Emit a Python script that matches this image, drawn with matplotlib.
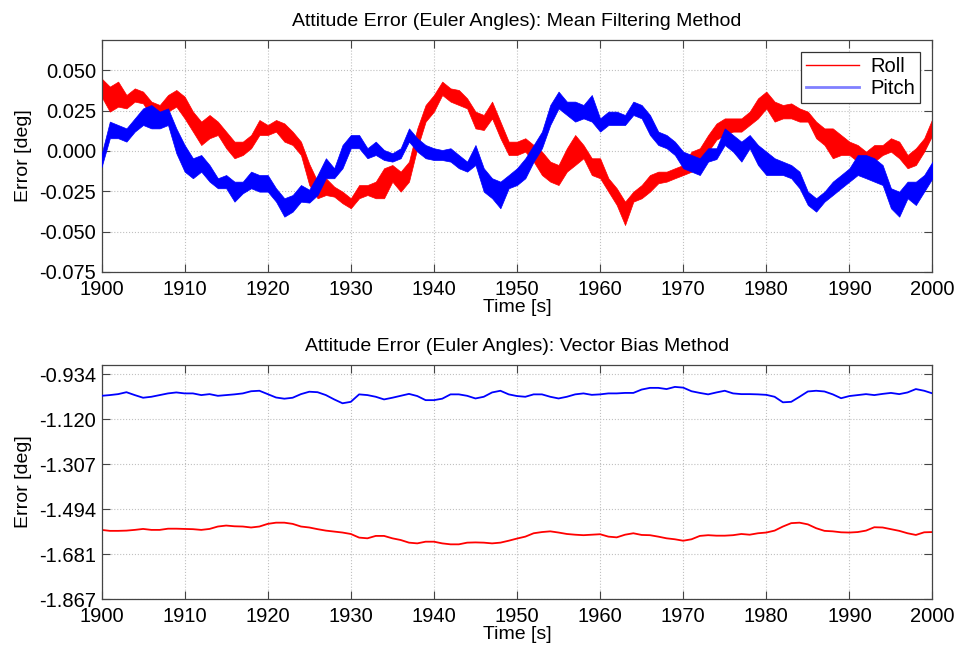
import numpy as np
import matplotlib
matplotlib.use("Agg")
import matplotlib.pyplot as plt
from matplotlib.lines import Line2D

plt.rcParams['font.family'] = ['Liberation Sans', 'DejaVu Sans']

# time axis, one sample per second
t = np.arange(1900, 2001)

# mean filtering method: noise band (upper / lower edge) per second, in mdeg
roll_hi = [45.0, 39.9, 43.0, 34.7, 38.8, 36.8, 30.6, 28.5, 34.7, 37.8,
           33.7, 24.4, 18.2, 22.3, 18.2, 12.0, 5.8, 5.8, 9.9, 19.2,
           16.1, 19.2, 17.1, 12.0, 5.8, -8.0, -19.0, -16.9, -22.1, -25.2,
           -29.3, -21.1, -21.1, -19.0, -10.7, -8.7, -12.8, -6.6, 14.0, 28.5,
           34.7, 43.0, 38.8, 37.8, 32.6, 24.4, 22.3, 30.6, 18.2, 5.8,
           5.8, 7.9, 3.7, -0.4, -6.6, -8.7, 1.7, 9.9, 3.7, -4.5,
           -4.5, -16.9, -23.1, -31.4, -25.2, -21.1, -14.9, -12.8, -12.8, -10.7,
           -8.7, -0.4, 1.7, 9.9, 17.0, 20.2, 20.2, 20.2, 24.4, 32.6,
           36.8, 30.6, 28.5, 29.5, 26.4, 24.4, 18.2, 14.0, 14.0, 9.9,
           5.8, 3.7, -0.4, 3.7, 3.7, 7.9, 5.8, -2.5, 1.7, 7.9,
           20.2]
roll_lo = [33.7, 24.4, 27.5, 26.4, 30.6, 29.5, 21.3, 22.3, 24.4, 27.5,
           20.2, 12.0, 3.7, 7.9, 9.9, 1.7, -4.5, -2.5, 1.7, 9.9,
           9.9, 12.0, 5.8, 3.7, -2.5, -21.1, -29.3, -27.3, -28.3, -32.4,
           -35.5, -29.3, -27.3, -29.3, -29.3, -19.0, -25.2, -19.0, 1.7, 18.2,
           24.4, 34.7, 30.6, 28.5, 26.4, 14.0, 13.0, 20.2, 7.9, -2.5,
           -2.5, -0.4, -6.6, -14.9, -19.0, -21.1, -12.8, -8.7, -4.5, -14.9,
           -16.9, -25.2, -33.5, -45.9, -31.4, -29.3, -25.2, -20.0, -19.0, -16.9,
           -14.9, -12.8, -8.7, -0.4, 7.0, 9.9, 12.0, 12.0, 16.1, 20.2,
           26.4, 18.2, 20.2, 20.2, 18.2, 18.2, 7.9, 3.7, -4.5, -2.5,
           -2.5, -6.6, -8.7, -6.6, -2.5, -0.4, -4.5, -10.7, -8.7, -0.4,
           9.9]
pitch_hi = [-2.0, 18.2, 16.1, 14.0, 20.2, 26.4, 28.5, 24.4, 26.4, 14.0,
            3.7, -4.5, -2.5, -8.7, -16.9, -14.9, -19.0, -19.0, -12.8, -14.9,
            -14.9, -23.1, -29.3, -27.3, -21.1, -24.0, -14.9, -4.5, -10.7, 3.7,
            9.9, 9.9, 1.7, 5.8, 0.6, -1.4, 1.7, 14.0, 7.9, 3.7,
            1.7, 0.6, 1.7, -2.5, -6.6, 3.7, -10.7, -16.9, -19.0, -14.9,
            -10.7, -4.5, 3.7, 12.0, 28.5, 36.8, 30.6, 30.6, 28.5, 34.7,
            20.2, 24.4, 24.4, 22.3, 30.6, 28.5, 22.3, 12.0, 9.9, 5.8,
            -0.4, -2.5, -4.5, 1.7, 1.7, 14.0, 9.9, 5.8, 9.9, 3.7,
            -0.4, -4.5, -6.6, -8.7, -12.8, -25.2, -29.3, -25.2, -19.0, -14.9,
            -10.7, -2.5, -2.5, -4.5, -8.7, -23.1, -25.2, -19.0, -19.0, -14.9,
            -6.6]
pitch_lo = [-10.0, 7.9, 7.9, 5.8, 12.0, 16.1, 14.0, 14.0, 16.1, -1.4,
            -12.8, -16.9, -12.8, -19.0, -23.1, -23.1, -31.4, -26.2, -23.1, -25.2,
            -25.2, -31.4, -40.7, -37.6, -31.4, -32.0, -27.3, -16.9, -16.9, -10.7,
            1.7, 1.7, -4.5, -2.5, -5.6, -6.6, -4.5, 5.8, -0.4, -4.5,
            -5.6, -5.6, -6.6, -10.7, -12.8, -8.7, -25.2, -29.3, -35.5, -23.1,
            -21.1, -16.9, -6.6, 1.7, 16.1, 26.4, 22.3, 18.2, 20.2, 18.2,
            12.0, 16.1, 16.1, 16.1, 22.3, 20.2, 9.9, 3.7, 1.7, -2.5,
            -10.7, -12.8, -14.9, -6.6, -5.0, 3.7, -0.4, -6.6, 1.7, -8.7,
            -14.9, -14.9, -14.9, -16.9, -23.1, -33.5, -37.6, -31.4, -27.3, -23.1,
            -19.0, -14.9, -16.9, -19.0, -21.1, -35.5, -40.7, -29.3, -33.5, -25.2,
            -16.9]

# vector bias method, deg
roll_vb = [-1.580, -1.584, -1.584, -1.583, -1.580, -1.576, -1.580, -1.580, -1.575, -1.575,
           -1.576, -1.577, -1.580, -1.576, -1.566, -1.562, -1.565, -1.566, -1.570, -1.566,
           -1.555, -1.550, -1.550, -1.555, -1.566, -1.570, -1.577, -1.583, -1.587, -1.591,
           -1.597, -1.612, -1.615, -1.605, -1.605, -1.615, -1.622, -1.633, -1.636, -1.629,
           -1.629, -1.636, -1.640, -1.640, -1.633, -1.632, -1.633, -1.636, -1.633, -1.625,
           -1.616, -1.608, -1.594, -1.589, -1.586, -1.591, -1.597, -1.600, -1.602, -1.600,
           -1.598, -1.608, -1.611, -1.600, -1.594, -1.601, -1.602, -1.608, -1.615, -1.619,
           -1.625, -1.619, -1.605, -1.602, -1.604, -1.604, -1.602, -1.597, -1.600, -1.594,
           -1.591, -1.583, -1.566, -1.552, -1.550, -1.557, -1.573, -1.584, -1.586, -1.590,
           -1.591, -1.589, -1.583, -1.569, -1.570, -1.577, -1.584, -1.594, -1.601, -1.590,
           -1.589]
pitch_vb = [-1.023, -1.020, -1.016, -1.008, -1.020, -1.031, -1.027, -1.020, -1.013, -1.009,
            -1.013, -1.013, -1.020, -1.016, -1.023, -1.020, -1.017, -1.013, -1.004, -1.002,
            -1.016, -1.030, -1.035, -1.031, -1.016, -1.006, -1.008, -1.020, -1.038, -1.054,
            -1.048, -1.017, -1.020, -1.027, -1.038, -1.031, -1.023, -1.015, -1.024, -1.041,
            -1.041, -1.035, -1.017, -1.017, -1.023, -1.034, -1.027, -1.009, -1.002, -1.017,
            -1.024, -1.027, -1.017, -1.017, -1.027, -1.034, -1.027, -1.017, -1.013, -1.019,
            -1.017, -1.013, -1.013, -1.011, -1.011, -0.997, -0.990, -0.990, -0.995, -0.986,
            -0.989, -1.004, -1.011, -1.017, -1.009, -1.002, -1.013, -1.016, -1.016, -1.017,
            -1.019, -1.027, -1.050, -1.048, -1.027, -1.005, -1.002, -1.005, -1.017, -1.033,
            -1.024, -1.020, -1.016, -1.020, -1.015, -1.011, -1.016, -1.009, -0.995, -1.002,
            -1.013]

top_ticks = [-0.075, -0.050, -0.025, 0.000, 0.025, 0.050]
bot_ticks = np.linspace(-1.8672, -0.9336, 6)
bot_labels = ['-1.867', '-1.681', '-1.494', '-1.307', '-1.120', '-0.934']
x_ticks = np.arange(1900, 2001, 10)

RED = '#ff0000'
BLUE = '#0000ff'

fig = plt.figure(figsize=(9.56, 6.49), dpi=100)
ax1 = fig.add_axes([0.1062, 0.5809, 0.8692, 0.3575])
ax2 = fig.add_axes([0.1062, 0.0770, 0.8692, 0.3606])


def style(ax):
    ax.set_xlim(1900, 2000)
    ax.set_xticks(x_ticks)
    ax.grid(True, linestyle=':', color='#c0c0c0', linewidth=0.8)
    ax.tick_params(direction='in', length=6, width=0.8, color='#444444',
                   top=True, right=True, labelsize=14.5)
    ax.tick_params(axis='x', pad=5.5)
    ax.tick_params(axis='y', pad=4)
    for s in ax.spines.values():
        s.set_color('#444444')
        s.set_linewidth(0.9)
    ax.set_xlabel('Time [s]', fontsize=14, labelpad=0)
    ax.set_ylabel('Error [deg]', fontsize=14, labelpad=5)


# top: mean filtering
r_hi = np.array(roll_hi) / 1000
r_lo = np.array(roll_lo) / 1000
p_hi = np.array(pitch_hi) / 1000
p_lo = np.array(pitch_lo) / 1000
ax1.fill_between(t, r_lo, r_hi, color=RED, linewidth=0.5, zorder=2)
ax1.fill_between(t, p_lo, p_hi, color=BLUE, linewidth=0.5, zorder=3)
ax1.set_ylim(-0.075, 0.0688)
ax1.set_yticks(top_ticks)
ax1.set_yticklabels(['%.3f' % v for v in top_ticks])
ax1.set_title('Attitude Error (Euler Angles): Mean Filtering Method',
              fontsize=14, pad=10)
style(ax1)
handles = [Line2D([], [], color=RED, lw=1.0),
           Line2D([], [], color='#8080ff', lw=2.0)]
leg = ax1.legend(handles, ['Roll', 'Pitch'], loc='upper right', fontsize=14.5,
                 fancybox=False, framealpha=1, edgecolor='#333333',
                 handlelength=2.6, borderpad=0.25, labelspacing=0.15,
                 handletextpad=0.6, borderaxespad=0.6)
leg.get_frame().set_linewidth(0.9)

# bottom: vector bias
ax2.plot(t, roll_vb, color=RED, linewidth=1.3, zorder=2)
ax2.plot(t, pitch_vb, color=BLUE, linewidth=1.3, zorder=3)
ax2.set_ylim(-1.8672, -0.895)
ax2.set_yticks(bot_ticks)
ax2.set_yticklabels(bot_labels)
ax2.set_title('Attitude Error (Euler Angles): Vector Bias Method',
              fontsize=14, pad=10)
style(ax2)

fig.savefig('out.png', dpi=100)
